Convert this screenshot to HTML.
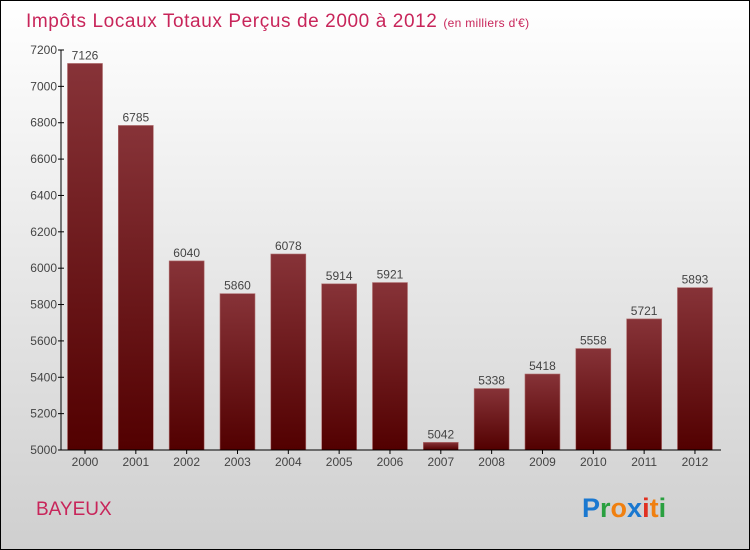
<!DOCTYPE html>
<html><head><meta charset="utf-8"><style>
body{margin:0}
#wrap{position:relative;width:748px;height:548px;border:1px solid #000;background:linear-gradient(#fff,#cfcfcf);font-family:"Liberation Sans",sans-serif;overflow:hidden}
svg{position:absolute;left:-1px;top:-1px}
</style></head><body>
<div id="wrap">
<svg id="c" width="750" height="550">
<defs><linearGradient id="bg" x1="0" y1="0" x2="0" y2="1"><stop offset="0" stop-color="#873338"/><stop offset="1" stop-color="#520000"/></linearGradient></defs>
<text x="26" y="27" font-size="19" fill="#c8255a" letter-spacing="0.6">Impôts Locaux Totaux Perçus de 2000 à 2012 <tspan font-size="12" letter-spacing="0.3">(en milliers d'€)</tspan></text>
<text x="36" y="515" font-size="19" fill="#c8255a">BAYEUX</text>
<text x="582" y="517" font-size="27" font-weight="bold"><tspan fill="#1a78d0">P</tspan><tspan fill="#2aa040">r</tspan><tspan fill="#f08010">o</tspan><tspan fill="#1a78d0">x</tspan><tspan fill="#e03020">i</tspan><tspan fill="#f08010">t</tspan><tspan fill="#2aa040">i</tspan></text>
</svg></div>
<script>
const years=["2000","2001","2002","2003","2004","2005","2006","2007","2008","2009","2010","2011","2012"];
const values=[7126,6785,6040,5860,6078,5914,5921,5042,5338,5418,5558,5721,5893];
const ticks=[5000,5200,5400,5600,5800,6000,6200,6400,6600,6800,7000,7200];
const svg=document.getElementById('c');const NS='http://www.w3.org/2000/svg';
const y=v=>450-(v-5000)*400/2200;
const x=i=>85+i*50.83;
function mk(t,a){const e=document.createElementNS(NS,t);for(const k in a)e.setAttribute(k,a[k]);svg.appendChild(e);return e;}
values.forEach((v,i)=>{
const r=mk('rect',{x:x(i)-17.5,y:y(v),width:35,height:450-y(v),fill:'url(#bg)',stroke:'#b07070','stroke-width':0.6});


const t=mk('text',{x:x(i),y:y(v)-4,'font-size':12,fill:'#444','text-anchor':'middle'});t.textContent=v;


const l=mk('text',{x:x(i),y:466,'font-size':12,fill:'#444','text-anchor':'middle'});l.textContent=years[i];


mk('line',{x1:x(i),x2:x(i),y1:450,y2:454,stroke:'#000'});
});
const ax=mk('path',{d:'M61 50V450H721',stroke:'#000',fill:'none','stroke-width':1});


ticks.forEach(v=>{mk('line',{x1:58,x2:64,y1:y(v),y2:y(v),stroke:'#000'});
const t=mk('text',{x:57,y:y(v)+4,'font-size':12,fill:'#444','text-anchor':'end'});t.textContent=v;

});
</script>
</body></html>
